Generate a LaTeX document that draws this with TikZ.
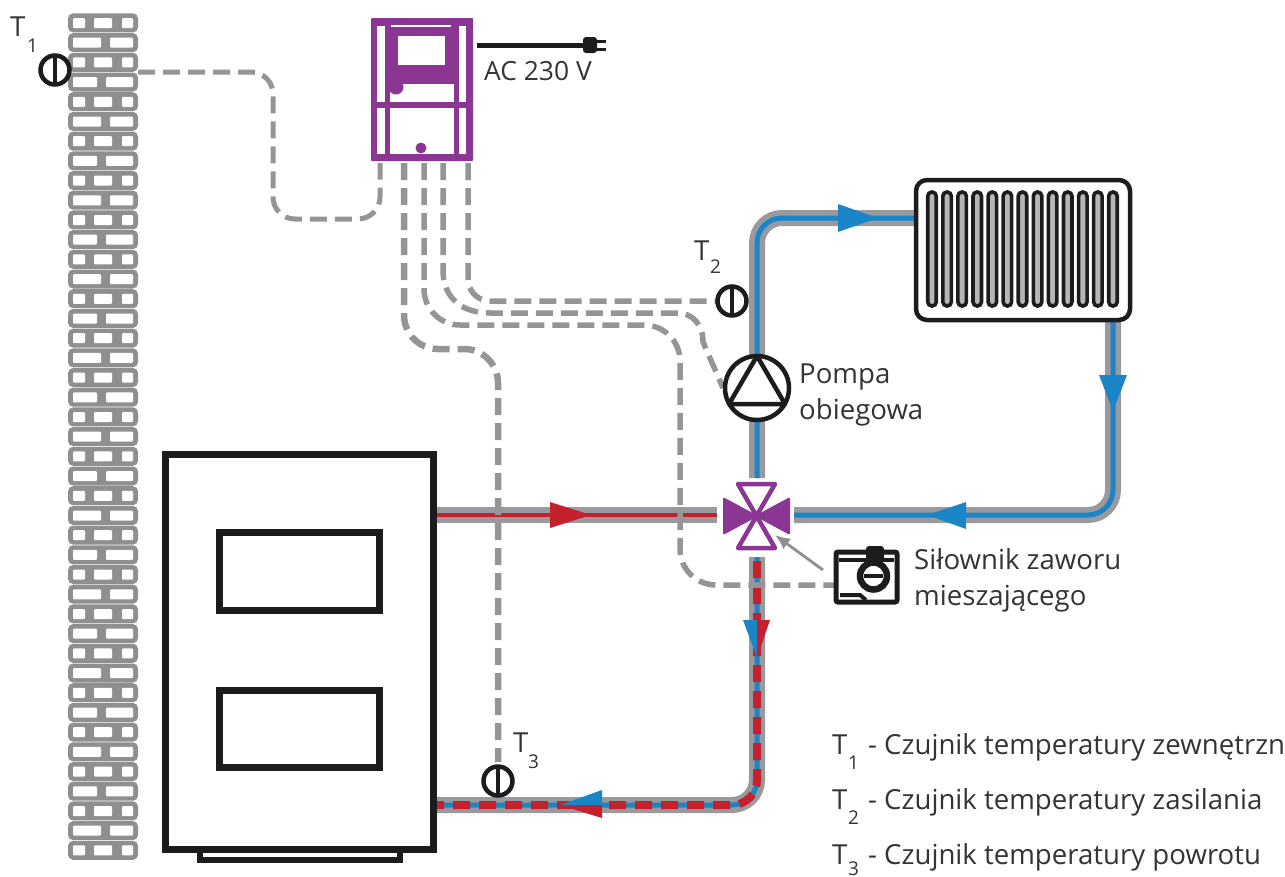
\documentclass[tikz,border=0pt]{standalone}
\usepackage{fontspec}
\setmainfont{Open Sans}
\usetikzlibrary{arrows.meta,calc}
\definecolor{pipeg}{HTML}{9A9A9E}
\definecolor{wireg}{HTML}{959597}
\definecolor{wallg}{HTML}{8F8F91}
\definecolor{pblue}{HTML}{1A86C8}
\definecolor{pred}{HTML}{C5202E}
\definecolor{purp}{HTML}{8C3694}
\definecolor{ink}{HTML}{1C1C1E}
\definecolor{txt}{HTML}{333338}
\tikzset{
  wire/.style={draw=wireg,line width=5.5,dash pattern=on 17 off 8,rounded corners=22},
  pipeouter/.style={draw=pipeg,line width=16,rounded corners=25},
  pipeblue/.style={draw=pblue,line width=5,rounded corners=25},
  pipered/.style={draw=pred,line width=4.5},
  pipedash/.style={draw=pred,line width=8,rounded corners=25,dash pattern=on 17 off 9},
  sensor/.style={circle,draw=ink,line width=4.5,fill=white,minimum size=29,inner sep=0,
    path picture={\draw[ink,line width=4.5] (path picture bounding box.north) -- (path picture bounding box.south);}},
  lab/.style={anchor=base west,inner sep=0,text=txt,font=\fontsize{27.6}{32}\selectfont},
  sub/.style={anchor=base west,inner sep=0,text=txt,font=\fontsize{19}{22}\selectfont},
  boilerline/.style={draw=ink,line width=6.5,fill=white,miter limit=10},
  fin/.style={draw=ink,line width=3.6,fill=#1,rounded corners=4.1}
}
\begin{document}
\begin{tikzpicture}[x=1pt,y=-1pt]
\useasboundingbox (0,0) rectangle (1285,876);
% wall
\foreach \i in {0,...,42}{
  \pgfmathsetmacro{\yc}{23+19.7*\i}
  \pgfmathtruncatemacro{\m}{mod(\i,4)}
  \fill[wallg,rounded corners=5] (68,\yc-9.6) rectangle (138,\yc+9.4);
  \ifnum\m=0 \foreach \a/\b in {73/85,94/112,122/133}{\fill[white,rounded corners=1] (\a,\yc-5) rectangle (\b,\yc+5);}\fi
  \ifnum\m=2 \foreach \a/\b in {73/85,94/112,122/133}{\fill[white,rounded corners=1] (\a,\yc-5) rectangle (\b,\yc+5);}\fi
  \ifnum\m=1 \foreach \a/\b in {73/101,110/133}{\fill[white,rounded corners=1] (\a,\yc-5) rectangle (\b,\yc+5);}\fi
  \ifnum\m=3 \foreach \a/\b in {73/97,106/133}{\fill[white,rounded corners=1] (\a,\yc-5) rectangle (\b,\yc+5);}\fi
}
% anchors
\coordinate (valve) at (756,515);
\coordinate (wallout) at (138,72);
\coordinate (ctrlA) at (380,163);
\coordinate (ctrlB) at (404,163);
\coordinate (ctrlC) at (424,163);
\coordinate (ctrlD) at (443,163);
\coordinate (ctrlE) at (468,163);
\coordinate (pumpin) at (723,388);
\coordinate (actin) at (838,585);
\coordinate (boilOutA) at (437,515);
\coordinate (boilOutB) at (437,805);
\coordinate (radIn) at (916,218);
\coordinate (radOut) at (1113,320);
% boiler
\draw[draw=ink,line width=6] (200,850) -- (200,860) -- (400,860) -- (400,850);
\node[draw=ink,line width=7,fill=white,minimum width=267.5,minimum height=394.5,inner sep=0] (boiler) at (299.25,651.75) {};
\node[boilerline,minimum width=160,minimum height=78,inner sep=0] (winA) at (299.5,571.5) {};
\node[boilerline,minimum width=160,minimum height=77,inner sep=0] (winB) at (299.5,729) {};
% pipes
\draw[pipeouter] (757,478) -- (757,218) -- (radIn);
\draw[pipeblue] (757,478) -- (757,218) -- (radIn);
\draw[pipeouter] (radOut) -- (1113,515) -- (794,515);
\draw[pipeblue] (radOut) -- (1113,515) -- (794,515);
\draw[draw=pipeg,line width=16] (boilOutA) -- (717,515);
\draw[pipered] (boilOutA) -- (717,515);
\draw[pipeouter] (757,557) -- (757,805) -- (boilOutB);
\draw[draw=pblue,line width=5,rounded corners=25] (757,557) -- (757,805) -- (boilOutB);
\draw[pipedash] (757,561) -- (757,805) -- (boilOutB);
% arrow heads
\fill[pblue] (838,204) -- (878,218) -- (838,232) -- cycle;
\fill[pblue] (1099,375) -- (1113,411) -- (1127,375) -- cycle;
\fill[pblue] (966,502) -- (927,515) -- (966,529) -- cycle;
\fill[pred] (550,502) -- (591,515) -- (550,528) -- cycle;
\fill[pblue] (602,790) -- (560,805) -- (602,805) -- cycle;
\fill[pred] (602,818) -- (560,805) -- (602,805) -- cycle;
\fill[pblue] (743,620) -- (757,658) -- (757,620) -- cycle;
\fill[pred] (770,620) -- (757,658) -- (757,620) -- cycle;
% wires
\draw[wire,line width=5] (wallout) -- (273,72) -- (273,219) -- (380,219) -- (ctrlA);
\draw[wire,line width=6.5,rounded corners=34] (ctrlB) -- (404,349) -- (498,349) -- (498,762);
\draw[wire,line width=5.5,rounded corners=36] (ctrlC) -- (424,325) -- (680,325) -- (680,585) -- (actin);
\draw[wire,sharp corners,line width=5.5] (ctrlD) -- (443,270) .. controls (443,298) and (462,313) .. (490,313) -- (677,313) .. controls (693,313) and (703,325) .. (703,342) -- (pumpin);
\draw[wire,line width=5.5,rounded corners=22] (ctrlE) -- (468,301) -- (716,301);
% radiator
\node[draw=ink,line width=4.5,fill=white,rounded corners=11,minimum width=214,minimum height=140,inner sep=0] (rad) at (1023,250) {};
\foreach \k in {0,...,12}{
  \pgfmathsetmacro{\xf}{932+15.08*\k}
  \draw[fin=wallg!65!white] (\xf-4.25,192) rectangle (\xf+4.25,306);
}
% controller
\fill[purp,rounded corners=1] (371,18) rectangle (473,161);
\fill[white] (377,26) rectangle (385,102);
\fill[white] (459,26) rectangle (466,102);
\fill[white] (377,108) rectangle (385,154);
\fill[white] (459,108) rectangle (466,154);
\fill[white] (390,108) rectangle (454,154);
\fill[white] (390,84) rectangle (454,102);
\fill[white] (398,36) rectangle (445,65);
\draw[white,line width=1.2] (391,26) -- (451,26);
\node[circle,fill=purp,minimum size=15,inner sep=0] (dotA) at (396,87) {};
\node[circle,fill=purp,minimum size=11,inner sep=0] (dotB) at (421,148) {};
% plug
\coordinate (cordstart) at (477,45);
\coordinate (plugbody) at (590,45);
\draw[ink,line width=5] (cordstart) -- (plugbody);
\fill[ink,rounded corners=3] (583,37) rectangle (597,53);
\draw[ink,line width=3] (595,41) -- (606,41);
\draw[ink,line width=3] (595,49) -- (606,49);
% sensors
\node[sensor] (tA) at (55,70) {};
\node[sensor] (tB) at (732,301) {};
\node[sensor] (tC) at (498,781) {};
% pump
\node[circle,draw=ink,line width=4.5,fill=white,minimum size=64,inner sep=0] (pump) at (757,388) {};
\draw[ink,line width=4.5,line join=round] (757,356) -- (785,404) -- (729,404) -- cycle;
% valve
\draw[purp,line width=4.5,line join=round,fill=white] (738,484) -- (775,484) -- (756.5,516) -- cycle;
\draw[purp,line width=4.5,line join=round,fill=white] (738,548) -- (775,548) -- (756.5,516) -- cycle;
\fill[purp,rounded corners=1.5] (723,497) -- (756.5,515) -- (790,497) -- (790,535) -- (756.5,517) -- (723,535) -- cycle;
% actuator
\draw[ink,line width=5,rounded corners=2,fill=white] (836,552) rectangle (897,602);
\draw[ink,line width=3.5] (839,560) -- (894,560);
\draw[ink,line width=4] (840,595) -- (860,595) -- (866,600);
\fill[ink,rounded corners=3] (866,546) rectangle (884,563);
\node[circle,draw=ink,line width=6.5,fill=white,minimum size=27,inner sep=0] (actuator) at (873.5,576) {};
\draw[ink,line width=4] (864,576) -- (883,576);
\draw[wallg,line width=2.8,-{Latex[length=15,width=13]}] (823,570) -- (775,535);
% texts
\node[lab] (tAl) at (10,36) {T};
\node[sub] (tAs) at (27,52) {1};
\node[lab] (tBl) at (694,260) {T};
\node[sub] (tBs) at (710,273) {2};
\node[lab] (tCl) at (513,752) {T};
\node[sub] (tCs) at (528,768) {3};
\node[lab,font=\fontsize{26.4}{32}\selectfont] (ac) at (484,80) {AC 230 V};
\node[lab] (pa) at (799,383) {Pompa};
\node[lab] (pb) at (799,419) {obiegowa};
\node[lab] (sa) at (914,569) {Siłownik zaworu};
\node[lab] (sb) at (914,605) {mieszającego};
\node[lab] (la) at (832,754) {T};
\node[sub] (las) at (848,769) {1};
\node[lab] (lat) at (868,754) {- Czujnik temperatury zewnętrzn};
\node[lab] (lb) at (832,809) {T};
\node[sub] (lbs) at (848,824) {2};
\node[lab] (lbt) at (868,809) {- Czujnik temperatury zasilania};
\node[lab] (lc) at (832,864) {T};
\node[sub] (lcs) at (848,875) {3};
\node[lab] (lct) at (868,864) {- Czujnik temperatury powrotu};
\end{tikzpicture}
\end{document}
